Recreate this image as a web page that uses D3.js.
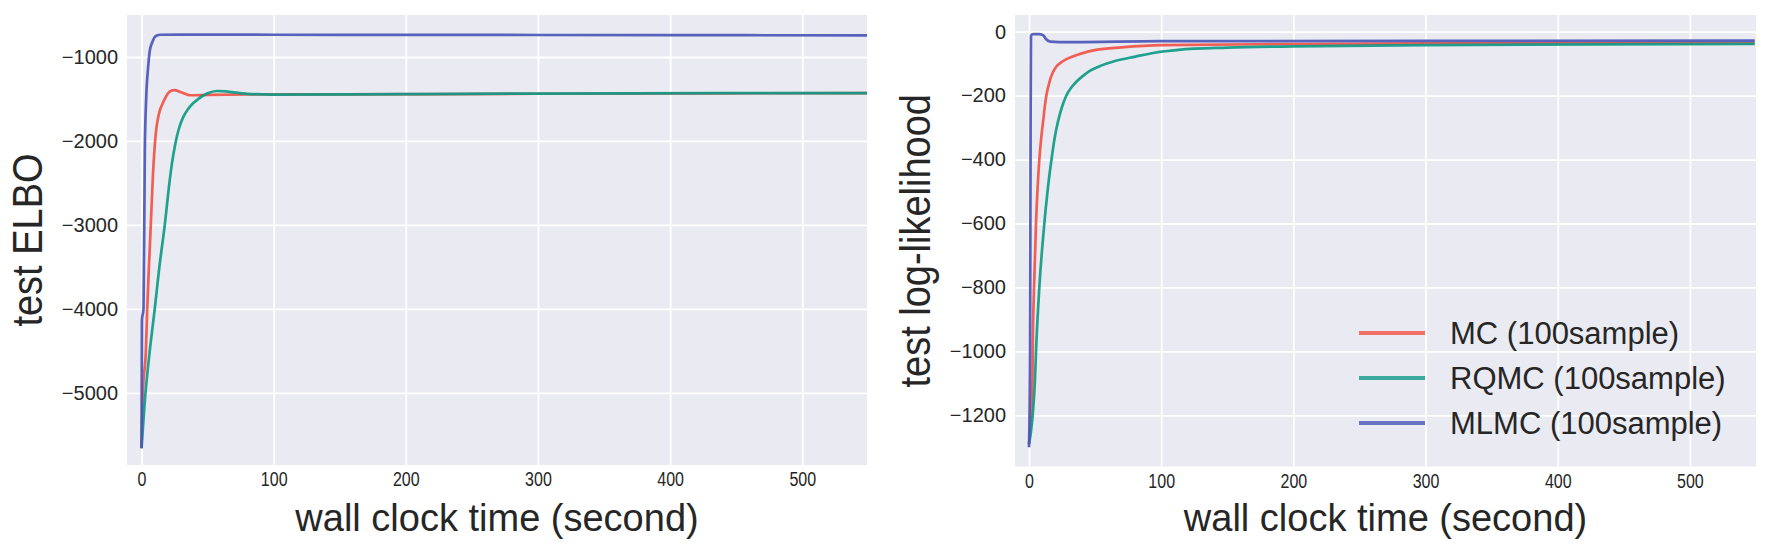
<!DOCTYPE html>
<html>
<head>
<meta charset="utf-8">
<script src="https://cdn.jsdelivr.net/npm/d3@7"></script>
<style>
  body { margin: 0; background: #fff; }
  text { font-family: "Liberation Sans", Arial, sans-serif; fill: #262626; }
</style>
</head>
<body>
<svg id="chart" width="1770" height="555"></svg>
<script>
// series names / colours
const seriesNames = ["MC (100sample)", "RQMC (100sample)", "MLMC (100sample)"];
const seriesColors = ["#f15145", "#0e9a86", "#4a56b8"];

// left panel: test ELBO, [time (s), value]
const elboMC = [[0,-5660],[1,-5000],[3.3,-4490],[4.3,-4000],[5.6,-3500],[7,-3000],[8.5,-2450],[10,-2060],[11,-1880],[12,-1770],[13,-1690],[14.2,-1620],[15.8,-1560],[17.6,-1500],[19.5,-1445],[22,-1405],[25,-1396],[30,-1420],[37,-1456],[50,-1452],[80,-1447],[150,-1445],[300,-1438],[549,-1430]];
const elboRQMC = [[0,-5660],[3,-5000],[6.3,-4490],[10,-4000],[13.5,-3500],[17.6,-3000],[20.5,-2580],[23,-2270],[25.5,-2040],[28,-1870],[31.6,-1714],[35,-1625],[39,-1552],[43,-1500],[49.6,-1436],[57,-1405],[65,-1412],[80,-1440],[100,-1448],[200,-1442],[300,-1436],[549,-1430]];
const elboMLMC = [[0,-5660],[0.3,-4130],[1.5,-4000],[2.5,-2110],[3.5,-1500],[5,-1119],[6.3,-920],[8,-830],[10,-762],[12,-742],[14,-735],[30,-733],[100,-735],[200,-737],[300,-738],[400,-740],[549,-742]];

// right panel: test log-likelihood, [time (s), value]
const llMC = [[0,-1290],[2.6,-1090],[2.8,-1000],[3.8,-800],[5.3,-600],[7.8,-400],[9.3,-330],[10.8,-276],[12,-232],[13.2,-198],[14.6,-172],[16,-150],[18,-128],[20.7,-109],[24,-97],[27,-89],[33,-78],[40,-68],[50.6,-57],[70,-49],[100,-42],[200,-39],[300,-37],[549,-36]];
const llRQMC = [[0,-1290],[4.5,-1090],[5.3,-1000],[7.8,-800],[11.6,-600],[14,-500],[17,-400],[19.5,-330],[22,-280],[25,-235],[28,-202],[32,-175],[36,-156],[40.4,-140],[46,-123],[53,-109],[65,-92],[80.5,-78],[95,-66],[113,-57],[150,-50],[200,-46],[300,-42],[549,-38]];
const llMLMC = [[0,-1300],[0.8,-1000],[1.2,-300],[1.5,-12],[3,-8],[8,-8],[10.8,-12],[13,-24],[16,-31],[30,-33],[100,-30],[300,-29],[549,-28]];

// ticks
const xTicks = [0, 100, 200, 300, 400, 500];
const elboTicks = [-1000, -2000, -3000, -4000, -5000];
const llTicks = [0, -200, -400, -600, -800, -1000, -1200];

class LinePanel {
  constructor(svg, box, opts) {
    this.svg = svg;
    this.box = box;
    this.opts = opts;
  }

  initialize() {
    const { x0, y0, x1, y1 } = this.box;
    this.g = this.svg.append("g");

    this.g.append("rect")
      .attr("x", x0).attr("y", y0)
      .attr("width", x1 - x0).attr("height", y1 - y0)
      .attr("fill", "#eaeaf2");

    this.xScale = d3.scaleLinear().domain(this.opts.xDomain).range([x0, x1]);
    this.yScale = d3.scaleLinear().domain(this.opts.yDomain).range([y0, y1]);
  }

  update(series) {
    const { x0, y0, x1, y1 } = this.box;

    // grid + tick labels
    const xAxis = this.g.append("g")
      .attr("transform", `translate(0, ${y1})`)
      .call(d3.axisBottom(this.xScale).tickValues(xTicks).tickSize(-(y1 - y0)).tickPadding(7).tickFormat(d3.format("d")));
    const yAxis = this.g.append("g")
      .attr("transform", `translate(${x0}, 0)`)
      .call(d3.axisLeft(this.yScale).tickValues(this.opts.yTicks).tickSize(-(x1 - x0)).tickPadding(9).tickFormat(d3.format("d")));

    [xAxis, yAxis].forEach((a) => {
      a.select(".domain").remove();
      a.selectAll(".tick line").attr("stroke", "#fff").attr("stroke-width", 1.8);
      a.selectAll(".tick text").style("font-size", "20px").attr("fill", "#333");
    });
    xAxis.selectAll(".tick text").attr("transform", "scale(0.8,1)");

    // lines
    const line = d3.line()
      .x((d) => this.xScale(d[0]))
      .y((d) => this.yScale(d[1]))
      .curve(d3.curveMonotoneX);

    const clipId = "clip" + Math.round(x0);
    this.g.append("clipPath").attr("id", clipId)
      .append("rect").attr("x", x0).attr("y", y0).attr("width", x1 - x0).attr("height", y1 - y0);

    this.g.append("g").attr("clip-path", `url(#${clipId})`)
      .selectAll("path")
      .data(series)
      .join("path")
      .attr("d", (d) => line(d))
      .attr("fill", "none")
      .attr("stroke", (d, i) => seriesColors[i])
      .attr("stroke-width", 2.7)
      .attr("stroke-opacity", 0.92)
      .attr("stroke-linejoin", "round");

    // axis labels
    this.g.append("text")
      .attr("x", (x0 + x1) / 2)
      .attr("y", 531)
      .attr("text-anchor", "middle")
      .style("font-size", "38px")
      .text("wall clock time (second)");

    this.g.append("text")
      .attr("transform", `translate(${this.opts.yLabelX}, ${(y0 + y1) / 2}) rotate(-90) scale(1,1.12)`)
      .attr("text-anchor", "middle")
      .style("font-size", "38px")
      .text(this.opts.yLabel);
  }

  legend(x, y, step) {
    const items = this.g.append("g")
      .selectAll("g")
      .data(seriesNames)
      .join("g")
      .attr("transform", (d, i) => `translate(${x}, ${y + i * step})`);
    items.append("line")
      .attr("x1", 0).attr("x2", 66)
      .attr("stroke", (d, i) => seriesColors[i])
      .attr("stroke-width", 4)
      .attr("stroke-opacity", 0.8);
    items.append("text")
      .attr("x", 91)
      .attr("dy", "0.36em")
      .style("font-size", "31px")
      .text((d) => d);
  }
}

const svg = d3.select("#chart");

const left = new LinePanel(svg, { x0: 127, y0: 15, x1: 867, y1: 465 }, {
  xDomain: [-11, 549],
  yDomain: [-500, -5860],
  yTicks: elboTicks,
  yLabel: "test ELBO",
  yLabelX: 42,
});
left.initialize();
left.update([elboMC, elboRQMC, elboMLMC]);

const right = new LinePanel(svg, { x0: 1015, y0: 15, x1: 1756, y1: 466.5 }, {
  xDomain: [-10.6, 550],
  yDomain: [52, -1360],
  yTicks: llTicks,
  yLabel: "test log-likelihood",
  yLabelX: 930,
});
right.initialize();
right.update([llMC, llRQMC, llMLMC]);
right.legend(1359, 333, 45);
</script>
</body>
</html>
